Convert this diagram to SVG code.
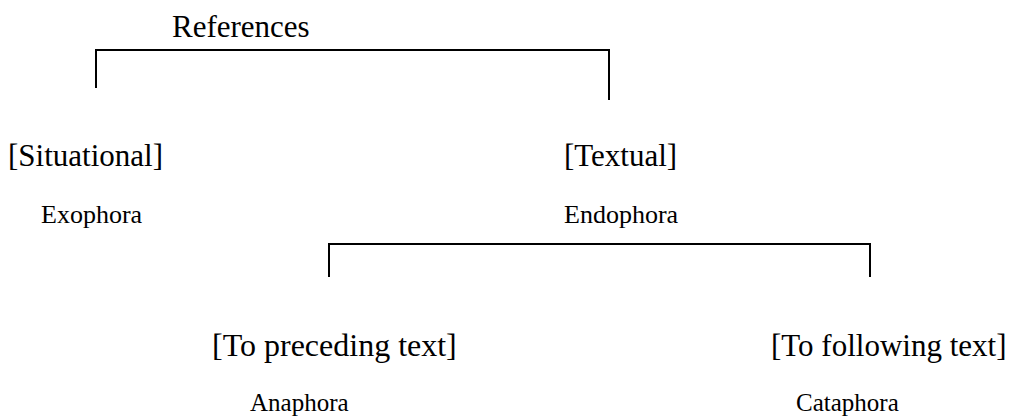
<svg xmlns="http://www.w3.org/2000/svg" width="1017" height="416" viewBox="0 0 1017 416">
<style>
.t{font-family:"Liberation Serif","Times New Roman",serif;fill:#000}
.big{font-size:31px}
.sm{font-size:25px}
.sm2{font-size:26px}
.c{fill:none;stroke:#000;stroke-width:2}
</style>
<rect width="1017" height="416" fill="#fff"/>
<g id="connectors">
<path class="c" d="M96,88 V50 H609 V100"/>
<path class="c" d="M329,277 V244 H870 V277"/>
</g>
<g id="references"><text class="t big" x="172" y="37">References</text></g>
<g id="situational">
<text class="t big" x="8" y="166">[Situational]</text>
<text class="t sm2" x="41" y="223">Exophora</text>
</g>
<g id="textual">
<text class="t big" x="564" y="166">[Textual]</text>
<text class="t sm2" x="564" y="223">Endophora</text>
</g>
<g id="preceding">
<text class="t big" x="212" y="356" style="font-size:32px">[To preceding text]</text>
<text class="t sm" x="250" y="411">Anaphora</text>
</g>
<g id="following">
<text class="t big" x="771" y="356">[To following text]</text>
<text class="t sm" x="796" y="411">Cataphora</text>
</g>
</svg>
